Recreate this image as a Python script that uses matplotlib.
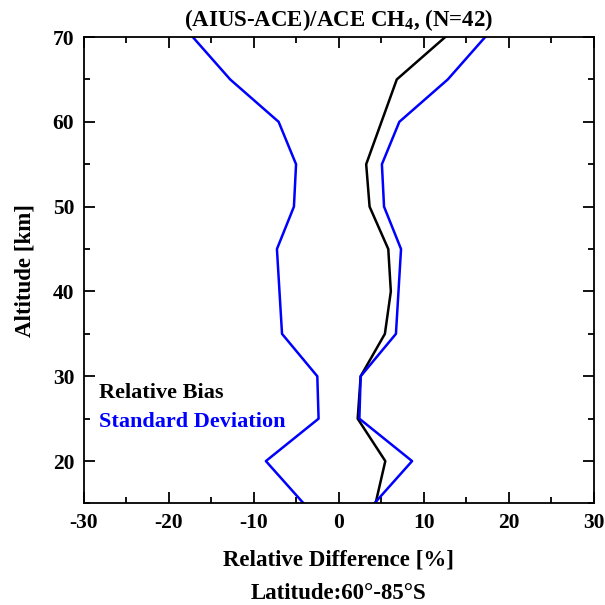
import matplotlib
matplotlib.use('Agg')
import matplotlib.pyplot as plt
from matplotlib.ticker import MultipleLocator

plt.rcParams['font.family'] = 'Liberation Serif'
plt.rcParams['font.weight'] = 'bold'
plt.rcParams['axes.unicode_minus'] = False
plt.rcParams['mathtext.fontset'] = 'custom'
plt.rcParams['mathtext.rm'] = 'Liberation Serif:bold'
plt.rcParams['mathtext.bf'] = 'Liberation Serif:bold'

# altitude levels [km]
altitude = [15, 20, 25, 30, 35, 40, 45, 50, 55, 60, 65, 70]
# relative bias [%]
bias = [4.3, 5.45, 2.2, 2.55, 5.4, 6.1, 5.8, 3.6, 3.2, 5.0, 6.8, 12.5]
# standard deviation [%] (drawn as +/- around zero)
std = [4.15, 8.6, 2.4, 2.55, 6.7, 7.0, 7.3, 5.3, 5.05, 7.1, 12.8, 17.2]

fig = plt.figure(figsize=(6.05, 6.05), dpi=100)
ax = fig.add_axes([0.1388, 0.1678, 0.843, 0.7710])

ax.plot(bias, altitude, color='black', lw=1.8)
ax.plot(std, altitude, color='#0000ff', lw=1.8)
ax.plot([-s for s in std], altitude, color='#0000ff', lw=1.8)

ax.set_xlim(-30, 30)
ax.set_ylim(15, 70)
ax.xaxis.set_major_locator(MultipleLocator(10))
ax.xaxis.set_minor_locator(MultipleLocator(5))
ax.yaxis.set_major_locator(MultipleLocator(10))
ax.yaxis.set_minor_locator(MultipleLocator(5))
ax.tick_params(which='both', direction='in', top=True, right=True, width=1.3, labelsize=15.5)
ax.tick_params(which='major', length=8, pad=7)
ax.tick_params(which='minor', length=4)
for sp in ax.spines.values():
    sp.set_linewidth(1.3)

ax.set_xlabel('Relative Difference [%]\nLatitude:60°-85°S', fontsize=16.5, fontweight='bold',
              labelpad=12, linespacing=1.75)
ax.set_ylabel('Altitude [km]', fontsize=16.5, fontweight='bold', labelpad=12)
ax.set_title('(AIUS-ACE)/ACE CH$_\\mathbf{4}$, (N=42)', fontsize=16.5, fontweight='bold', pad=8)

ax.text(0.03, 0.237, 'Relative Bias', transform=ax.transAxes, color='black',
        fontsize=16, fontweight='bold', va='center')
ax.text(0.03, 0.175, 'Standard Deviation', transform=ax.transAxes, color='#0000ff',
        fontsize=16, fontweight='bold', va='center')

fig.savefig('out.png', dpi=100)
